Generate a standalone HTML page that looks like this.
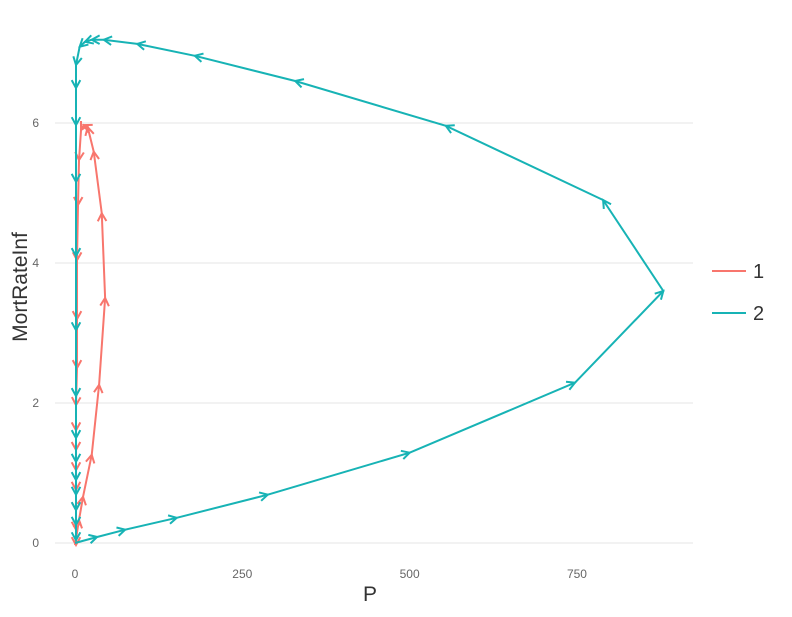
<!DOCTYPE html>
<html><head><meta charset="utf-8"><style>
body{margin:0;background:#fff;font-family:"Liberation Sans",sans-serif}
</style></head><body>
<svg id="chart" width="792" height="612" xmlns="http://www.w3.org/2000/svg"></svg>
<script>
const yTicks=[0,2,4,6];
const xTicks=[0,250,500,750];
const s1P=[0,6,12,25,36,45,40,28,19,13,9,6,4.5,3,3,3,1.5,1.5,1.5,1.5,1.5,1.5,1.5,1.5];
const s1M=[-0.03,0.33,0.66,1.26,2.26,3.5,4.71,5.59,5.94,5.97,5.9,5.47,4.83,4.04,3.2,2.5,1.97,1.61,1.33,1.04,0.76,0.47,0.19,-0.03];
const s2P=[0,33,75,152,288,500,747,879,789,554,329,179,93,43,25,15,7,1.5,1.5,1.5,1.5,1.5,1.5,1.5,1.5,1.5,1.5,1.5,1.5,1.5,1.5];
const s2M=[0,0.086,0.19,0.36,0.69,1.29,2.29,3.6,4.9,5.96,6.6,6.96,7.13,7.19,7.19,7.16,7.09,6.83,6.5,5.97,5.16,4.1,3.04,2.1,1.5,1.16,0.9,0.69,0.47,0.26,0.04];
const NS="http://www.w3.org/2000/svg";
const svg=document.getElementById('chart');
const X=v=>75+v*0.6693, Y=v=>543-v*70;
function mk(t,a){const e=document.createElementNS(NS,t);for(const k in a)e.setAttribute(k,a[k]);svg.appendChild(e);return e;}
yTicks.forEach(t=>{
 const g=mk('line',{x1:55,x2:693,y1:Y(t),y2:Y(t),stroke:'#e5e5e5','stroke-width':1});
 
 
 const l=mk('text',{x:39,y:Y(t)+4,'font-size':12,fill:'#666','text-anchor':'end'});l.textContent=t;
 
 
});
xTicks.forEach(t=>{
 const l=mk('text',{x:X(t),y:578,'font-size':12,fill:'#666','text-anchor':'middle'});l.textContent=t;
 
 
});
function series(P,M,col,name){
 const pts=P.map((p,i)=>X(p)+','+Y(M[i])).join(' ');
 const pl=mk('polyline',{points:pts,fill:'none',stroke:col,'stroke-width':2});
 
 
 for(let i=1;i<P.length;i++){
  const x0=X(P[i-1]),y0=Y(M[i-1]),x1=X(P[i]),y1=Y(M[i]);
  const a=Math.atan2(y1-y0,x1-x0);if(x0===x1&&y0===y1)continue;
  const L=9,w=0.5;
  const d=`M${x1-L*Math.cos(a-w)},${y1-L*Math.sin(a-w)} L${x1},${y1} L${x1-L*Math.cos(a+w)},${y1-L*Math.sin(a+w)}`;
  const ar=mk('path',{d:d,fill:'none',stroke:col,'stroke-width':2});
  
  
 }
}
series(s1P,s1M,'#F8766D','series-1');
series(s2P,s2M,'#17B3B5','series-2');
const xt=mk('text',{x:370,y:601,'font-size':21,fill:'#333','text-anchor':'middle'});xt.textContent='P';


const yt=mk('text',{x:0,y:0,'font-size':21,fill:'#333','text-anchor':'middle',transform:'translate(27,287) rotate(-90)'});yt.textContent='MortRateInf';


[['1','#F8766D',271],['2','#17B3B5',313]].forEach(([n,c,y])=>{
 const l=mk('line',{x1:712,x2:746,y1:y,y2:y,stroke:c,'stroke-width':2});
 
 
 const t=mk('text',{x:753,y:y+7,'font-size':20,fill:'#333'});t.textContent=n;
 
 
});
</script>
</body></html>
